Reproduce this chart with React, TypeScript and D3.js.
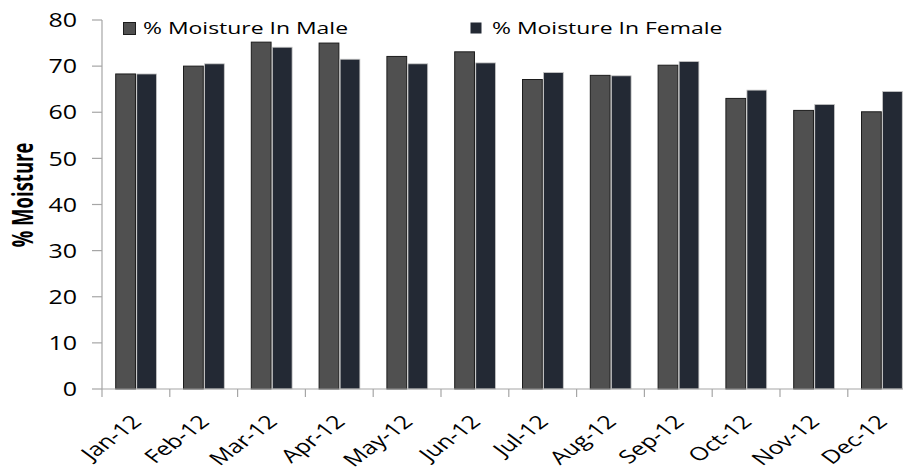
import React from "react";
import * as d3 from "d3";

const months = ["Jan-12","Feb-12","Mar-12","Apr-12","May-12","Jun-12","Jul-12","Aug-12","Sep-12","Oct-12","Nov-12","Dec-12"];
const maleValues = [68.3, 70.0, 75.2, 75.0, 72.1, 73.1, 67.1, 68.0, 70.2, 63.0, 60.4, 60.1];
const femaleValues = [68.3, 70.5, 74.1, 71.5, 70.5, 70.7, 68.6, 67.9, 71.0, 64.8, 61.7, 64.5];
const yTicks = [0, 10, 20, 30, 40, 50, 60, 70, 80];
const seriesNames = ["% Moisture In Male", "% Moisture In Female"];
const yAxisLabel = "% Moisture";

const W = 903, H = 474;
const left = 102, top = 20, bottom = 389;
const catW = 67.8;
const SX = 1.35;

export default function App() {
  const x = d3.scaleBand<string>().domain(months).range([left, left + catW * months.length]).paddingInner(0).paddingOuter(0);
  const inner = d3.scaleBand<string>().domain(["m", "f"]).range([13.7, 54.5]).paddingInner(0.06);
  const y = d3.scaleLinear().domain([0, 80]).range([bottom, top]);
  const font = "'Open Sans', 'DejaVu Sans', sans-serif";
  const axisColor = "#a6a6a6";
  const maleFill = "#505050";
  const femaleFill = "#232934";

  return (
    <svg width={W} height={H} style={{ position: "absolute", left: 0, top: 0, background: "#fff" }} fontFamily={font}>
      {months.map((m, i) => {
        const x0 = x(m)!;
        const mv = maleValues[i], fv = femaleValues[i];
        return (
          <g key={m}>
            <rect x={x0 + inner("m")!} y={y(mv)} width={inner.bandwidth()} height={y(0) - y(mv)} fill={maleFill} stroke="#1c1c1c" strokeWidth={1} />
            <rect x={x0 + inner("f")!} y={y(fv)} width={inner.bandwidth()} height={y(0) - y(fv)} fill={femaleFill} stroke="#c8c8c8" strokeWidth={0.8} />
          </g>
        );
      })}
      <line x1={left} x2={left} y1={y(80)} y2={y(0)} stroke={axisColor} strokeWidth={1.2} />
      {yTicks.map(t => (
        <g key={t}>
          <line x1={left - 10} x2={left} y1={y(t)} y2={y(t)} stroke={axisColor} strokeWidth={1.2} />
          <text x={0} y={0} dy="0.36em" textAnchor="end" fontSize={20} fill="#000" transform={`translate(77,${y(t)}) scale(1.25,1)`}>{t}</text>
        </g>
      ))}
      <line x1={left} x2={W} y1={y(0)} y2={y(0)} stroke={axisColor} strokeWidth={1.2} />
      {d3.range(months.length + 1).map(i => {
        const xx = left + catW * i;
        return <line key={i} x1={xx} x2={xx} y1={y(0)} y2={y(0) + 8} stroke={axisColor} strokeWidth={1.2} />;
      })}
      {months.map(m => {
        const cx = x(m)! + x.bandwidth() / 2 + 7;
        const cy = 423;
        return (
          <text key={m} x={0} y={0} textAnchor="end" fontSize={18.5} fill="#000"
            transform={`translate(${cx},${cy}) scale(${SX},1) rotate(-45)`}>{m}</text>
        );
      })}
      <text x={0} y={0} textAnchor="middle" fontSize={18.5} fontWeight="bold" fill="#000"
        transform={`translate(33,195) scale(1.5,1) rotate(-90)`}>{yAxisLabel}</text>
      <rect x={123.5} y={22.5} width={12} height={12} fill={maleFill} stroke="#1c1c1c" strokeWidth={1} />
      <text x={0} y={0} fontSize={17} fill="#000" transform={`translate(143,34.3) scale(${SX},1)`}>{seriesNames[0]}</text>
      <rect x={470.5} y={22.5} width={11} height={11} fill={femaleFill} />
      <text x={0} y={0} fontSize={17} fill="#000" transform={`translate(492,34.3) scale(${SX},1)`}>{seriesNames[1]}</text>
    </svg>
  );
}
